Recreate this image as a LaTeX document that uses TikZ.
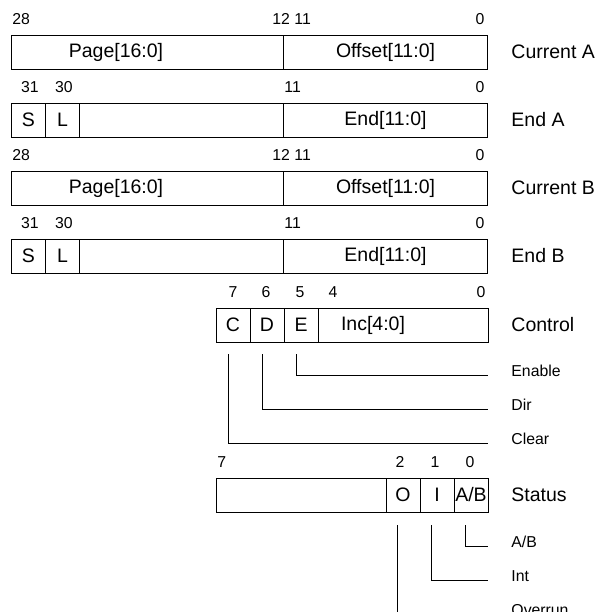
\documentclass[tikz,border=0pt]{standalone}
\usepackage{fontspec}
\setmainfont{Liberation Sans}
\usepackage{tikz}
\usetikzlibrary{positioning}

\begin{document}
\begin{tikzpicture}[x=1pt, y=-1pt, line width=0.9pt]
\tikzstyle{field} = [rectangle, draw=black, inner sep=0pt, outer sep=0pt, minimum height=34pt, font=\fontsize{19.5}{22}\selectfont]
\tikzstyle{bitno} = [inner sep=0pt, font=\fontsize{15.8}{18}\selectfont]
\tikzstyle{txt} = [inner sep=0pt, font=\fontsize{19.5}{22}\selectfont]
\tikzstyle{regname} = [anchor=west, inner sep=0pt, font=\fontsize{19.5}{22}\selectfont]
\tikzstyle{sig} = [anchor=west, inner sep=0pt, font=\fontsize{15.8}{18}\selectfont]
\tikzstyle{lead} = [line width=0.9pt]

\useasboundingbox (0,0) rectangle (595,612);
\clip (0,0) rectangle (595,612);

% Current A
\node (pageA) [field, minimum width=272pt, anchor=north west] at (11.5,35) {};
\node (offA) [field, minimum width=204pt, right=0pt of pageA] {Offset[11:0]};
\node (pageAtxt) [txt] at (116,52) {Page[16:0]};
\node (curA) [regname] at (511,52) {Current A};
\node (nA28) [bitno, anchor=west] at (12,19) {28};
\node (nA12) [bitno, anchor=west] at (272,19) {12 11};
\node (nA0) [bitno] at (480,19) {0};

% End A
\node (sA) [field, minimum width=34pt, anchor=north west] at (11.5,103) {S};
\node (lA) [field, minimum width=34pt, right=0pt of sA] {L};
\node (gapA) [field, minimum width=204pt, right=0pt of lA] {};
\node (endA) [field, minimum width=204pt, right=0pt of gapA] {End[11:0]};
\node (eA) [regname] at (511,120) {End A};
\node (eA31) [bitno] at (30,87) {31};
\node (eA30) [bitno] at (64,87) {30};
\node (eA11) [bitno, anchor=west] at (284,87) {11};
\node (eA0) [bitno] at (480,87) {0};

% Current B
\node (pageB) [field, minimum width=272pt, anchor=north west] at (11.5,171) {};
\node (offB) [field, minimum width=204pt, right=0pt of pageB] {Offset[11:0]};
\node (pageBtxt) [txt] at (116,188) {Page[16:0]};
\node (curB) [regname] at (511,188) {Current B};
\node (nB28) [bitno, anchor=west] at (12,155) {28};
\node (nB12) [bitno, anchor=west] at (272,155) {12 11};
\node (nB0) [bitno] at (480,155) {0};

% End B
\node (sB) [field, minimum width=34pt, anchor=north west] at (11.5,239) {S};
\node (lB) [field, minimum width=34pt, right=0pt of sB] {L};
\node (gapB) [field, minimum width=204pt, right=0pt of lB] {};
\node (endB) [field, minimum width=204pt, right=0pt of gapB] {End[11:0]};
\node (eB) [regname] at (511,256) {End B};
\node (eB31) [bitno] at (30,223) {31};
\node (eB30) [bitno] at (64,223) {30};
\node (eB11) [bitno, anchor=west] at (284,223) {11};
\node (eB0) [bitno] at (480,223) {0};

% Control
\node (ctlC) [field, minimum width=34pt, anchor=north west] at (216,308) {C};
\node (ctlD) [field, minimum width=34pt, right=0pt of ctlC] {D};
\node (ctlE) [field, minimum width=34pt, right=0pt of ctlD] {E};
\node (ctlInc) [field, minimum width=170pt, right=0pt of ctlE] {};
\node (incTxt) [txt] at (373,325) {Inc[4:0]};
\node (ctl) [regname] at (511,325) {Control};
\node (c7) [bitno] at (233,292) {7};
\node (c6) [bitno] at (266,292) {6};
\node (c5) [bitno] at (300,292) {5};
\node (c4) [bitno] at (333,292) {4};
\node (c0) [bitno] at (481,292) {0};

\coordinate (enEnd) at (488,375);
\coordinate (dirEnd) at (488,409);
\coordinate (clrEnd) at (488,443);
\node (enable) [sig] at (511,371) {Enable};
\node (dir) [sig] at (511,405) {Dir};
\node (clear) [sig] at (511,439) {Clear};
\draw [lead] ([xshift=-5pt,yshift=-12pt]ctlE.south) |- (enEnd);
\draw [lead] ([xshift=-5pt,yshift=-12pt]ctlD.south) |- (dirEnd);
\draw [lead] ([xshift=-5pt,yshift=-12pt]ctlC.south) |- (clrEnd);

% Status
\node (stGap) [field, minimum width=170pt, anchor=north west] at (216,478) {};
\node (stO) [field, minimum width=34pt, right=0pt of stGap] {O};
\node (stI) [field, minimum width=34pt, right=0pt of stO] {I};
\node (stAB) [field, minimum width=34pt, right=0pt of stI] {A/B};
\node (st) [regname] at (511,495) {Status};
\node (s7) [bitno, anchor=west] at (217,462) {7};
\node (s2) [bitno] at (400,462) {2};
\node (s1) [bitno] at (435,462) {1};
\node (s0) [bitno] at (470,462) {0};

\coordinate (abEnd) at (488,546);
\coordinate (intEnd) at (488,580);
\coordinate (ovrEnd) at (488,614);
\node (ab) [sig] at (511,542) {A/B};
\node (int) [sig] at (511,576) {Int};
\node (ovr) [sig] at (511,610) {Overrun};
\draw [lead] ([xshift=-6pt,yshift=-13pt]stAB.south) |- (abEnd);
\draw [lead] ([xshift=-6pt,yshift=-13pt]stI.south) |- (intEnd);
\draw [lead] ([xshift=-6pt,yshift=-13pt]stO.south) |- (ovrEnd);

\end{tikzpicture}
\end{document}
